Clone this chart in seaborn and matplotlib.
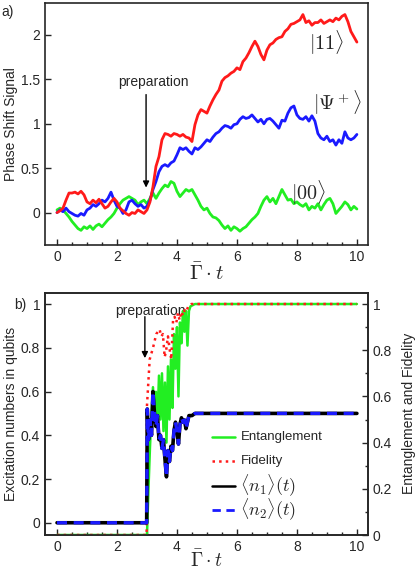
import numpy as np
import pandas as pd
import matplotlib
matplotlib.use("Agg")
import matplotlib.pyplot as plt
from matplotlib.lines import Line2D
import seaborn as sns

# ---------------- data: panel a (phase shift signal) ----------------
t_a = [round(0.1 * i, 1) for i in range(101)]
sig_11 = [0.00, 0.02, 0.05, 0.14, 0.22, 0.22, 0.23, 0.21, 0.24, 0.20,
          0.12, 0.10, 0.14, 0.11, 0.15, 0.10, 0.05, 0.07, 0.12, 0.16,
          0.12, 0.05, 0.02, -0.01, -0.03, 0.00, -0.01, 0.03, 0.01, -0.01,
          0.03, 0.12, 0.29, 0.52, 0.63, 0.82, 0.89, 0.88, 0.86, 0.89,
          0.88, 0.86, 0.88, 0.85, 0.84, 0.80, 0.99, 1.10, 1.16, 1.14,
          1.12, 1.20, 1.27, 1.33, 1.38, 1.48, 1.52, 1.54, 1.57, 1.59,
          1.63, 1.61, 1.70, 1.74, 1.80, 1.87, 1.93, 1.87, 1.78, 1.72,
          1.83, 1.89, 1.91, 1.95, 1.97, 1.98, 2.04, 2.07, 2.12, 2.13,
          2.15, 2.17, 2.23, 2.14, 2.16, 2.11, 2.14, 2.14, 2.17, 2.13,
          2.15, 2.17, 2.15, 2.19, 2.17, 2.21, 2.23, 2.15, 2.04, 1.98,
          1.92]
sig_psi = [0.00, 0.03, 0.01, 0.05, 0.01, -0.01, -0.03, -0.04, -0.01, -0.03,
           0.03, 0.05, 0.09, 0.07, 0.10, 0.14, 0.12, 0.16, 0.23, 0.14,
           0.07, 0.05, -0.01, 0.03, 0.12, 0.14, 0.10, 0.07, 0.09, 0.05,
           0.07, 0.14, 0.26, 0.35, 0.46, 0.52, 0.54, 0.52, 0.56, 0.58,
           0.65, 0.73, 0.71, 0.73, 0.69, 0.66, 0.73, 0.71, 0.74, 0.78,
           0.82, 0.80, 0.85, 0.89, 0.91, 0.95, 0.98, 0.97, 0.95, 0.99,
           1.00, 1.05, 1.08, 1.06, 1.07, 1.10, 1.06, 1.02, 1.05, 1.00,
           1.05, 1.06, 1.03, 0.99, 0.95, 1.04, 1.03, 1.12, 1.18, 1.20,
           1.10, 1.06, 1.05, 1.08, 1.03, 1.09, 1.03, 0.89, 0.84, 0.82,
           0.86, 0.80, 0.82, 0.76, 0.82, 0.78, 0.91, 0.84, 0.82, 0.84,
           0.88]
sig_00 = [0.03, 0.05, 0.03, -0.01, -0.05, -0.10, -0.14, -0.18, -0.20, -0.16,
          -0.18, -0.15, -0.19, -0.15, -0.13, -0.16, -0.12, -0.08, -0.05, -0.01,
          0.05, 0.10, 0.14, 0.16, 0.18, 0.16, 0.14, 0.09, 0.12, 0.14,
          0.10, 0.16, 0.22, 0.16, 0.22, 0.27, 0.31, 0.29, 0.35, 0.33,
          0.24, 0.18, 0.22, 0.26, 0.24, 0.26, 0.20, 0.14, 0.07, 0.03,
          0.05, -0.01, -0.05, -0.06, -0.09, -0.14, -0.18, -0.15, -0.20, -0.16,
          -0.18, -0.21, -0.18, -0.16, -0.12, -0.08, -0.05, -0.01, 0.07, 0.14,
          0.18, 0.12, 0.16, 0.10, 0.18, 0.26, 0.20, 0.14, 0.15, 0.10,
          0.12, 0.09, 0.07, 0.10, 0.03, 0.07, 0.05, 0.10, 0.03, 0.09,
          0.14, 0.16, 0.10, -0.01, 0.03, 0.07, 0.12, 0.09, 0.03, 0.07,
          0.04]

# ---------------- data: panel b ----------------
t_n = [0.0, 2.99, 3.01, 3.05, 3.10, 3.15, 3.20, 3.25, 3.30, 3.35, 3.40, 3.45,
       3.50, 3.55, 3.60, 3.65, 3.70, 3.75, 3.80, 3.85, 3.90, 3.95, 4.00, 4.05,
       4.10, 4.15, 4.20, 4.25, 4.30, 4.35, 4.40, 4.50, 4.60, 5.0, 10.0]
n1 = [0.0, 0.0, 0.52, 0.38, 0.47, 0.40, 0.60, 0.50, 0.44, 0.49, 0.38, 0.40,
      0.34, 0.38, 0.29, 0.21, 0.33, 0.28, 0.35, 0.33, 0.42, 0.46, 0.42, 0.36,
      0.45, 0.48, 0.46, 0.47, 0.43, 0.46, 0.49, 0.49, 0.50, 0.50, 0.50]
n2 = [0.0, 0.0, 0.52, 0.38, 0.47, 0.40, 0.60, 0.50, 0.44, 0.49, 0.38, 0.40,
      0.34, 0.38, 0.29, 0.21, 0.33, 0.28, 0.35, 0.33, 0.42, 0.46, 0.42, 0.36,
      0.45, 0.48, 0.46, 0.47, 0.43, 0.46, 0.49, 0.49, 0.50, 0.50, 0.50]

t_e = [0.0, 3.00, 3.05, 3.10, 3.15, 3.20, 3.25, 3.30, 3.35, 3.40, 3.45, 3.50,
       3.55, 3.60, 3.65, 3.70, 3.75, 3.80, 3.85, 3.90, 3.95, 4.00, 4.05, 4.10,
       4.15, 4.20, 4.25, 4.30, 4.35, 4.40, 4.45, 4.60, 5.0, 10.0]
entanglement = [0.0, 0.0, 0.20, 0.38, 0.52, 0.64, 0.50, 0.62, 0.48, 0.69, 0.50, 0.70,
                0.45, 0.66, 0.40, 0.73, 0.50, 0.76, 0.55, 0.87, 0.72, 0.90, 0.60, 0.92,
                0.83, 0.97, 0.88, 0.97, 0.82, 0.97, 0.99, 1.0, 1.0, 1.0]

t_f = [0.0, 2.99, 3.00, 3.09, 3.20, 3.31, 3.42, 3.48, 3.53, 3.59, 3.64, 3.70,
       3.76, 3.81, 3.87, 3.92, 3.98, 4.03, 4.09, 4.14, 4.20, 4.26, 4.31, 4.37,
       4.48, 4.60, 5.0, 10.0]
fidelity = [0.0, 0.0, 0.56, 0.76, 0.81, 0.87, 0.89, 0.86, 0.87, 0.77, 0.80, 0.86,
            0.80, 0.76, 0.93, 0.945, 0.92, 0.96, 0.93, 0.967, 0.95, 0.974, 0.967, 0.988,
            1.0, 1.0, 1.0, 1.0]

legend_labels = ["Entanglement", "Fidelity", r"$\langle n_1\rangle(t)$", r"$\langle n_2\rangle(t)$"]

# ---------------- styling ----------------
sns.set_style("ticks")
plt.rcParams["font.family"] = ["Liberation Sans", "DejaVu Sans"]
plt.rcParams["mathtext.fontset"] = "cm"
plt.rcParams["axes.linewidth"] = 1.2
plt.rcParams["xtick.direction"] = "in"
plt.rcParams["ytick.direction"] = "in"

GREEN = "#22ee22"
RED = "#ff1a1a"
BLUE = "#1a1aff"

fig = plt.figure(figsize=(4.16, 5.70), dpi=100)
ax_a = fig.add_axes([0.1082, 0.5702, 0.7764, 0.4245])
ax_b = fig.add_axes([0.1082, 0.0614, 0.7764, 0.4251])

TICK_FS = 10

# ---------------- panel a ----------------
df_a = pd.DataFrame({"t": t_a, "s11": sig_11, "spsi": sig_psi, "s00": sig_00})
sns.lineplot(data=df_a, x="t", y="s00", ax=ax_a, color=GREEN, lw=2.0, sort=False, estimator=None)
sns.lineplot(data=df_a, x="t", y="spsi", ax=ax_a, color=BLUE, lw=2.0, sort=False, estimator=None)
sns.lineplot(data=df_a, x="t", y="s11", ax=ax_a, color=RED, lw=2.0, sort=False, estimator=None)

ax_a.set_xlim(-0.4, 10.37)
ax_a.set_ylim(-0.365, 2.36)
ax_a.set_xticks([0, 2, 4, 6, 8, 10])
ax_a.set_xticks(np.arange(0, 10.01, 0.5), minor=True)
ax_a.set_yticks([0, 0.5, 1, 1.5, 2])
ax_a.set_yticklabels(["0", "0.5", "1", "1.5", "2"])
ax_a.tick_params(axis="both", which="major", length=4, width=1, labelsize=TICK_FS)
ax_a.tick_params(axis="x", which="minor", length=2.5, width=1)
ax_a.set_xlabel(r"$\bar{\Gamma}\cdot t$", fontsize=15, labelpad=-1)
ax_a.set_ylabel("Phase Shift Signal", fontsize=10, labelpad=2)

ax_a.text(9.0, 1.91, r"$|11\rangle$", fontsize=14.5, ha="center", va="center")
ax_a.text(9.35, 1.24, r"$|\Psi^+\rangle$", fontsize=14.5, ha="center", va="center")
ax_a.text(8.4, 0.22, r"$|00\rangle$", fontsize=14.5, ha="center", va="center")
ax_a.text(3.2, 1.47, "preparation", fontsize=10, ha="center", va="center")
ax_a.annotate("", xy=(2.97, 0.25), xytext=(2.97, 1.36),
              arrowprops=dict(arrowstyle="-|>", color="black", lw=1.0, mutation_scale=9))
fig.text(0.003, 0.992, "a)", fontsize=10, ha="left", va="top")

# ---------------- panel b ----------------
ax_r = ax_b.twinx()

df_e = pd.DataFrame({"t": t_e, "v": entanglement})
df_f = pd.DataFrame({"t": t_f, "v": fidelity})
df_n1 = pd.DataFrame({"t": t_n, "v": n1})
df_n2 = pd.DataFrame({"t": t_n, "v": n2})

sns.lineplot(data=df_e, x="t", y="v", ax=ax_r, color=GREEN, lw=1.8, sort=False, estimator=None)
sns.lineplot(data=df_f, x="t", y="v", ax=ax_r, color=RED, lw=1.8, linestyle=":", sort=False, estimator=None)
sns.lineplot(data=df_n1, x="t", y="v", ax=ax_r, color="black", lw=2.6, sort=False, estimator=None,
             transform=ax_b.transData)
sns.lineplot(data=df_n2, x="t", y="v", ax=ax_r, color=BLUE, lw=2.4, linestyle=(0, (3, 2)),
             sort=False, estimator=None, transform=ax_b.transData)

ax_b.set_xlim(-0.4, 10.37)
ax_b.set_ylim(-0.056, 1.052)
ax_r.set_xlim(-0.4, 10.37)
ax_r.set_ylim(0, 1.049)

ax_b.set_xticks([0, 2, 4, 6, 8, 10])
ax_b.set_xticks(np.arange(0, 10.01, 0.5), minor=True)
ax_b.set_yticks([0, 0.2, 0.4, 0.6, 0.8, 1.0])
ax_b.set_yticklabels(["0", "0.2", "0.4", "0.6", "0.8", "1"])
ax_b.tick_params(axis="both", which="major", length=4, width=1, labelsize=TICK_FS)
ax_b.tick_params(axis="x", which="minor", length=2.5, width=1)
ax_r.set_yticks([0, 0.2, 0.4, 0.6, 0.8, 1.0])
ax_r.set_yticklabels(["0", "0.2", "0.4", "0.6", "0.8", "1"])
ax_r.set_yticks(np.arange(0.1, 1.0, 0.2), minor=True)
ax_r.tick_params(axis="y", which="major", length=4, width=1, labelsize=TICK_FS, direction="in")
ax_r.tick_params(axis="y", which="minor", length=2.5, width=1, direction="in")
ax_r.set_xlabel("")
ax_r.set_ylabel("Entanglement and Fidelity", fontsize=10, labelpad=7)
ax_b.set_xlabel(r"$\bar{\Gamma}\cdot t$", fontsize=14, labelpad=-3)
ax_b.set_ylabel("Excitation numbers in qubits", fontsize=10, labelpad=2)

ax_b.text(3.1, 0.97, "preparation", fontsize=10, ha="center", va="center")
ax_b.annotate("", xy=(2.93, 0.74), xytext=(2.93, 0.955),
              arrowprops=dict(arrowstyle="-|>", color="black", lw=1.0, mutation_scale=9))
fig.text(0.035, 0.478, "b)", fontsize=10, ha="left", va="top")

# ---------------- legend (keys + labels, placed in axes fraction) ----------------
key_styles = [
    dict(color=GREEN, lw=1.8, linestyle="-"),
    dict(color=RED, lw=1.8, linestyle=":"),
    dict(color="black", lw=1.8, linestyle="-"),
    dict(color=BLUE, lw=2.0, linestyle=(0, (3, 2))),
]
label_sizes = [9.5, 9.5, 13, 13]
row_y = [0.405, 0.305, 0.202, 0.103]
key_x0, key_x1, text_x = 0.517, 0.588, 0.605
for style, lab, fs, yy in zip(key_styles, legend_labels, label_sizes, row_y):
    ax_r.add_line(Line2D([key_x0, key_x1], [yy, yy], transform=ax_r.transAxes, **style))
    ax_r.text(text_x, yy, lab, fontsize=fs, ha="left", va="center", transform=ax_r.transAxes)

fig.savefig("out.png", dpi=100)
